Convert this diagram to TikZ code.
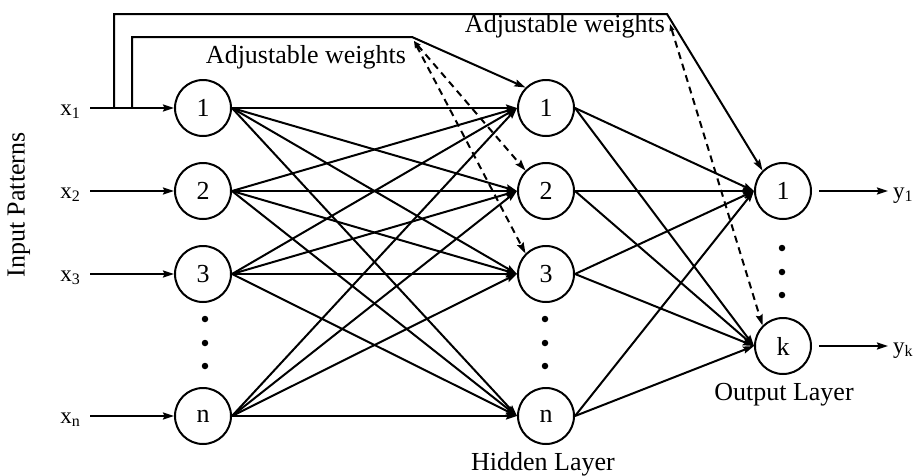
\documentclass[tikz,border=0pt]{standalone}
\usepackage{fontspec}
\setmainfont{Liberation Serif}
\usetikzlibrary{arrows.meta}
% lowered index in a smaller size
\newcommand\lowidx[1]{\raisebox{-3pt}{\fontsize{16}{16}\selectfont #1}}
\begin{document}
\begin{tikzpicture}[x=1pt,y=-1pt,
  txt/.style={inner sep=0pt,font=\fontsize{26}{30}\selectfont},
  var/.style={inner sep=0pt,font=\fontsize{23}{26}\selectfont},
  neuron/.style={circle,draw,line width=2pt,minimum size=56pt,inner sep=0pt,
    font=\fontsize{26}{30}\selectfont},
  link/.style={line width=2pt,-{Stealth[length=11pt,width=7pt,inset=1.5pt]}},
  adj/.style={line width=2pt,dash pattern=on 7pt off 5pt,
    {Stealth[length=7pt,width=5pt,inset=1pt]}-{Stealth[length=11pt,width=7pt,inset=1.5pt]}},
  dot/.style={circle,fill,inner sep=0pt,minimum size=6.5pt}]
\useasboundingbox (0,0) rectangle (921,475);

% input layer
\node[neuron] (i1) at (203,108) {1};
\node[neuron] (i2) at (203,191) {2};
\node[neuron] (i3) at (203,274) {3};
\node[neuron] (in) at (203,416) {n};
\node[dot] (id1) at (205,319) {};
\node[dot] (id2) at (205,343) {};
\node[dot] (id3) at (205,366) {};

% hidden layer
\node[neuron] (h1) at (546,108) {1};
\node[neuron] (h2) at (546,191) {2};
\node[neuron] (h3) at (546,274) {3};
\node[neuron] (hn) at (546,416) {n};
\node[dot] (hd1) at (545,319) {};
\node[dot] (hd2) at (545,343) {};
\node[dot] (hd3) at (545,366) {};

% output layer
\node[neuron] (o1) at (783,191) {1};
\node[neuron] (ok) at (783,346) {k};
\node[dot] (od1) at (782,248) {};
\node[dot] (od2) at (782,272) {};
\node[dot] (od3) at (782,295) {};

% inputs and outputs
\node[var,anchor=base east] (x1) at (80,115) {x\lowidx{1}};
\node[var,anchor=base east] (x2) at (80,198) {x\lowidx{2}};
\node[var,anchor=base east] (x3) at (80,281) {x\lowidx{3}};
\node[var,anchor=base east] (xn) at (80,423) {x\lowidx{n}};
\node[var,anchor=base west] (y1) at (893,198) {y\lowidx{1}};
\node[var,anchor=base west] (yk) at (893,353) {y\lowidx{k}};

\foreach \x/\n in {x1/i1,x2/i2,x3/i3,xn/in}
  \draw[link,shorten <=10pt] (\n.west -| \x.east) -- (\n.west);
\foreach \n/\y in {o1/y1,ok/yk}
  \draw[link,shorten <=7pt,shorten >=5pt] (\n.east) -- (\n.east -| \y.west);

% labels
\node[txt,rotate=90] (ip) at (19,205) {Input Patterns};
\node[txt,anchor=base] (aw1) at (306,63) {Adjustable weights};
\node[txt,anchor=base] (aw2) at (565,32) {Adjustable weights};
\node[txt,anchor=base] (hl) at (543,470) {Hidden Layer};
\node[txt,anchor=base] (ol) at (784,400) {Output Layer};

% full connections
\foreach \a in {i1,i2,i3,in}
  \foreach \b in {h1,h2,h3,hn}
    \draw[link] (\a.east) -- (\b.west);
\foreach \a in {h1,h2,h3,hn}
  \foreach \b in {o1,ok}
    \draw[link] (\a.east) -- (\b.west);

% skip connections from x1
\coordinate (s1) at (114,108);
\coordinate (s1c) at (667,14);
\coordinate (s2) at (132,108);
\coordinate (s2c) at (412,37);
\draw[link] (s1) |- (s1c) -- (o1.north west);
\draw[link] (s2) |- (s2c) -- (h1.north west);

% adjustable weights
\coordinate (d1) at (414,41);
\coordinate (d2) at (670,24);
\draw[adj] (d1) -- (h2.north west);
\draw[adj] (d1) -- (h3.north west);
\draw[adj] (d2) -- (ok.north west);
\end{tikzpicture}
\end{document}
